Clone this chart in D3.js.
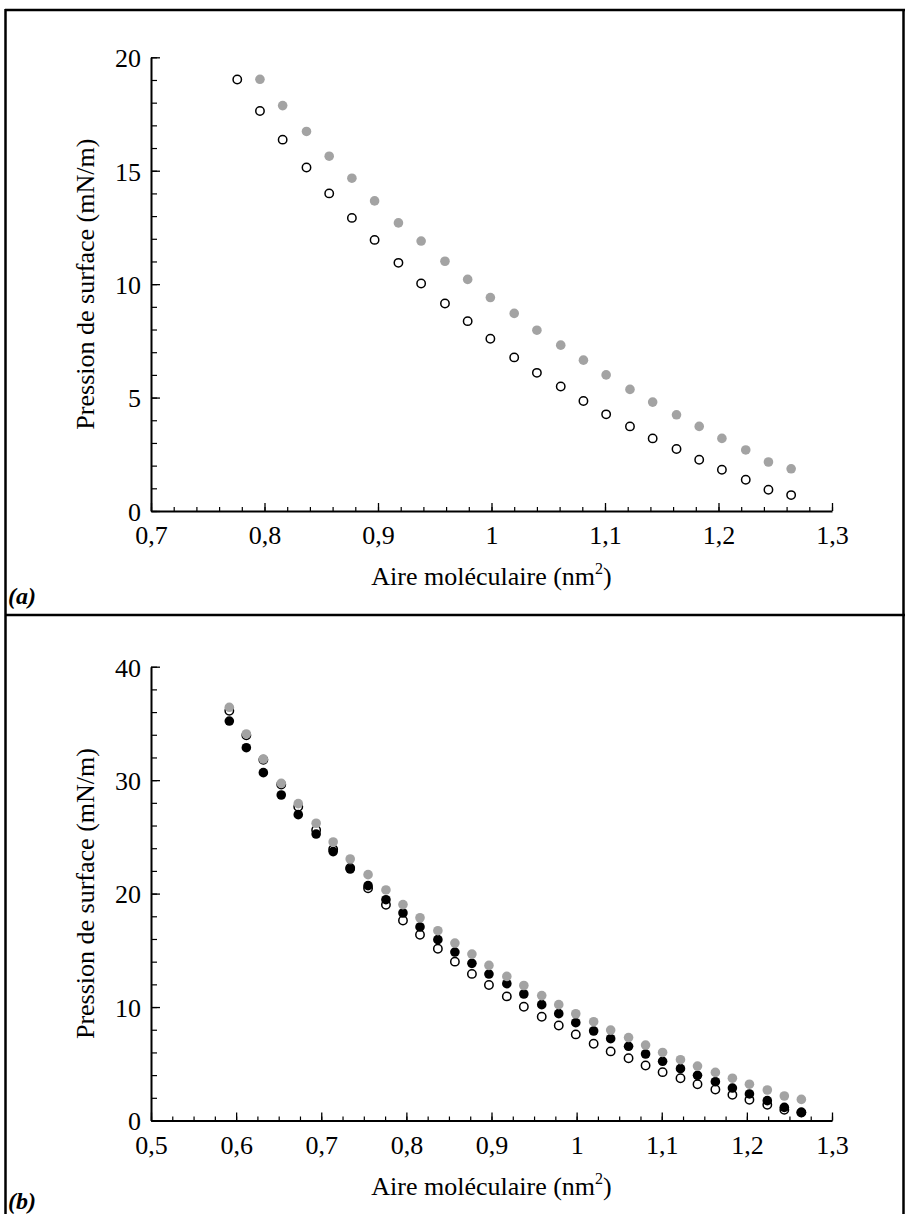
<!DOCTYPE html>
<html>
<head>
<meta charset="utf-8">
<script src="https://cdn.jsdelivr.net/npm/d3@7"></script>
<style>
  html, body { margin: 0; padding: 0; background: #fff; }
  svg { display: block; }
  text { font-family: "Liberation Serif", "Times New Roman", serif; fill: #000; }
</style>
</head>
<body>
<svg id="fig" width="905" height="1214"></svg>
<script>
// Molecular areas (nm²) shared by both isotherm sets
const areaMain = [0.776, 0.796, 0.816, 0.837, 0.857, 0.877, 0.897, 0.918, 0.938, 0.959,
                  0.979, 0.999, 1.020, 1.040, 1.061, 1.081, 1.101, 1.122, 1.142, 1.163,
                  1.183, 1.203, 1.224, 1.244, 1.264];
// Extra compressed areas reached only in panel (b)
const areaExtra = [0.592, 0.612, 0.632, 0.653, 0.673, 0.694, 0.714, 0.734, 0.755];

// Surface pressure (mN/m), open circles
const openMain = [19.02, 17.63, 16.37, 15.14, 14.00, 12.92, 11.95, 10.94, 10.03, 9.15,
                  8.37, 7.59, 6.77, 6.09, 5.49, 4.85, 4.26, 3.73, 3.20, 2.73,
                  2.26, 1.82, 1.38, 0.94, 0.70];
const openExtra = [36.12, 33.95, 31.80, 29.62, 27.66, 25.60, 23.90, 22.25, 20.47];

// Surface pressure (mN/m), grey dots (first point at 0.796 nm²)
const greyMain = [19.03, 17.87, 16.73, 15.64, 14.67, 13.67, 12.70, 11.90, 11.01, 10.21,
                  9.41, 8.71, 7.97, 7.31, 6.65, 6.00, 5.36, 4.80, 4.24, 3.73,
                  3.20, 2.69, 2.16, 1.86];
const greyExtra = [36.42, 34.07, 31.86, 29.72, 27.93, 26.20, 24.55, 23.05, 21.67, 20.32];

// Surface pressure (mN/m), black dots, panel (b) only
const blackB = [35.21, 32.86, 30.66, 28.69, 26.96, 25.25, 23.70, 22.17, 20.70, 19.46,
                18.29, 17.06, 15.94, 14.85, 13.85, 12.91, 12.06, 11.15, 10.21, 9.42,
                8.62, 7.89, 7.21, 6.54, 5.86, 5.22, 4.57, 3.98, 3.42, 2.86,
                2.34, 1.75, 1.16, 0.72];

// Axis ticks
const xTicksA = [0.7, 0.8, 0.9, 1.0, 1.1, 1.2, 1.3];
const yTicksA = [0, 5, 10, 15, 20];
const xTicksB = [0.5, 0.6, 0.7, 0.8, 0.9, 1.0, 1.1, 1.2, 1.3];
const yTicksB = [0, 10, 20, 30, 40];

const xTitle = "Aire moléculaire (nm";
const yTitle = "Pression de surface (mN/m)";

const GREY = "#a3a3a3";
const fr = d3.formatLocale({decimal: ",", thousands: " ", grouping: [3], currency: ["", ""]});
const fmt = fr.format(".1~f");

const svg = d3.select("#fig");

// Frame of the two-panel figure
const frame = svg.append("g").attr("stroke", "#000").attr("stroke-width", 2.5).attr("fill", "none");
frame.append("line").attr("x1", 5).attr("x2", 905).attr("y1", 10).attr("y2", 10);
frame.append("line").attr("x1", 5).attr("x2", 905).attr("y1", 615).attr("y2", 615);
frame.append("line").attr("x1", 5.5).attr("x2", 5.5).attr("y1", 9).attr("y2", 1214);
frame.append("line").attr("x1", 903.5).attr("x2", 903.5).attr("y1", 9).attr("y2", 1214);

function panel(opt) {
  const x = d3.scaleLinear().domain(opt.xDomain).range([151, 832]);
  const y = d3.scaleLinear().domain(opt.yDomain).range([opt.y0, opt.y1]);
  const g = svg.append("g");

  // minor ticks
  const xMinor = d3.range(opt.xDomain[0], opt.xDomain[1] + 1e-9, opt.xMinor);
  const yMinor = d3.range(opt.yDomain[0], opt.yDomain[1] + 1e-9, opt.yMinor);
  g.append("g").attr("transform", `translate(0,${opt.y0})`)
    .call(d3.axisBottom(x).tickValues(xMinor).tickSize(-4).tickFormat(""))
    .call(s => s.select(".domain").remove())
    .selectAll("line").attr("stroke-width", 1.2);
  g.append("g").attr("transform", "translate(151,0)")
    .call(d3.axisLeft(y).tickValues(yMinor).tickSize(-6).tickFormat(""))
    .call(s => s.select(".domain").remove())
    .selectAll("line").attr("stroke-width", 1.2);

  // major ticks with labels
  const gx = g.append("g").attr("transform", `translate(0,${opt.y0})`)
    .call(d3.axisBottom(x).tickValues(opt.xTicks).tickSize(-8).tickSizeOuter(0)
      .tickPadding(15).tickFormat(fmt));
  gx.select(".domain").attr("stroke-width", 2);
  gx.selectAll(".tick line").attr("stroke-width", 1.3);
  gx.selectAll("text").attr("font-size", 26).attr("font-family", "Liberation Serif");

  const gy = g.append("g").attr("transform", "translate(151,0)")
    .call(d3.axisLeft(y).tickValues(opt.yTicks).tickSize(-9).tickSizeOuter(0)
      .tickPadding(10).tickFormat(d3.format("d")));
  gy.select(".domain").attr("stroke-width", 2);
  gy.selectAll(".tick line").attr("stroke-width", 1.3);
  gy.selectAll("text").attr("font-size", 26).attr("font-family", "Liberation Serif")
    .attr("dy", "0.36em");

  // axis titles
  const t = g.append("text").attr("x", (151 + 832) / 2).attr("y", opt.y0 + 74)
    .attr("text-anchor", "middle").attr("font-size", 26).text(xTitle);
  t.append("tspan").attr("font-size", 16).attr("dy", -11).text("2");
  t.append("tspan").attr("dy", 11).text(")");

  g.append("text")
    .attr("transform", `translate(94,${(opt.y0 + opt.y1) / 2}) rotate(-90)`)
    .attr("text-anchor", "middle").attr("font-size", 26).text(yTitle);

  // panel label
  g.append("text").attr("x", 8).attr("y", opt.labelY)
    .attr("font-size", 24).attr("font-weight", "bold").attr("font-style", "italic")
    .text(opt.label);

  // data points
  const pts = g.append("g");
  opt.series.forEach(s => {
    const data = s.xs.map((a, i) => [a, s.ys[i]]);
    pts.append("g").selectAll("circle").data(data).join("circle")
      .attr("cx", d => x(d[0])).attr("cy", d => y(d[1]))
      .attr("r", s.r)
      .attr("fill", s.fill)
      .attr("stroke", s.stroke || "none")
      .attr("stroke-width", s.stroke ? 1.5 : 0);
  });
}

panel({
  xDomain: [0.7, 1.3], yDomain: [0, 20], y0: 511, y1: 57.3,
  xTicks: xTicksA, yTicks: yTicksA, xMinor: 0.02, yMinor: 1,
  label: "(a)", labelY: 604,
  series: [
    {xs: areaMain, ys: openMain, fill: "#fff", stroke: "#000", r: 4.2},
    {xs: areaMain.slice(1), ys: greyMain, fill: GREY, r: 4.8}
  ]
});

panel({
  xDomain: [0.5, 1.3], yDomain: [0, 40], y0: 1120.5, y1: 666.7,
  xTicks: xTicksB, yTicks: yTicksB, xMinor: 0.025, yMinor: 2,
  label: "(b)", labelY: 1209,
  series: [
    {xs: areaExtra.concat(areaMain), ys: openExtra.concat(openMain), fill: "#fff", stroke: "#000", r: 4.2},
    {xs: areaExtra.concat(areaMain), ys: blackB, fill: "#000", r: 4.8},
    {xs: areaExtra.concat(areaMain.slice(0, 1), areaMain.slice(1)), ys: greyExtra.concat(greyMain), fill: GREY, r: 4.8}
  ]
});
</script>
</body>
</html>
